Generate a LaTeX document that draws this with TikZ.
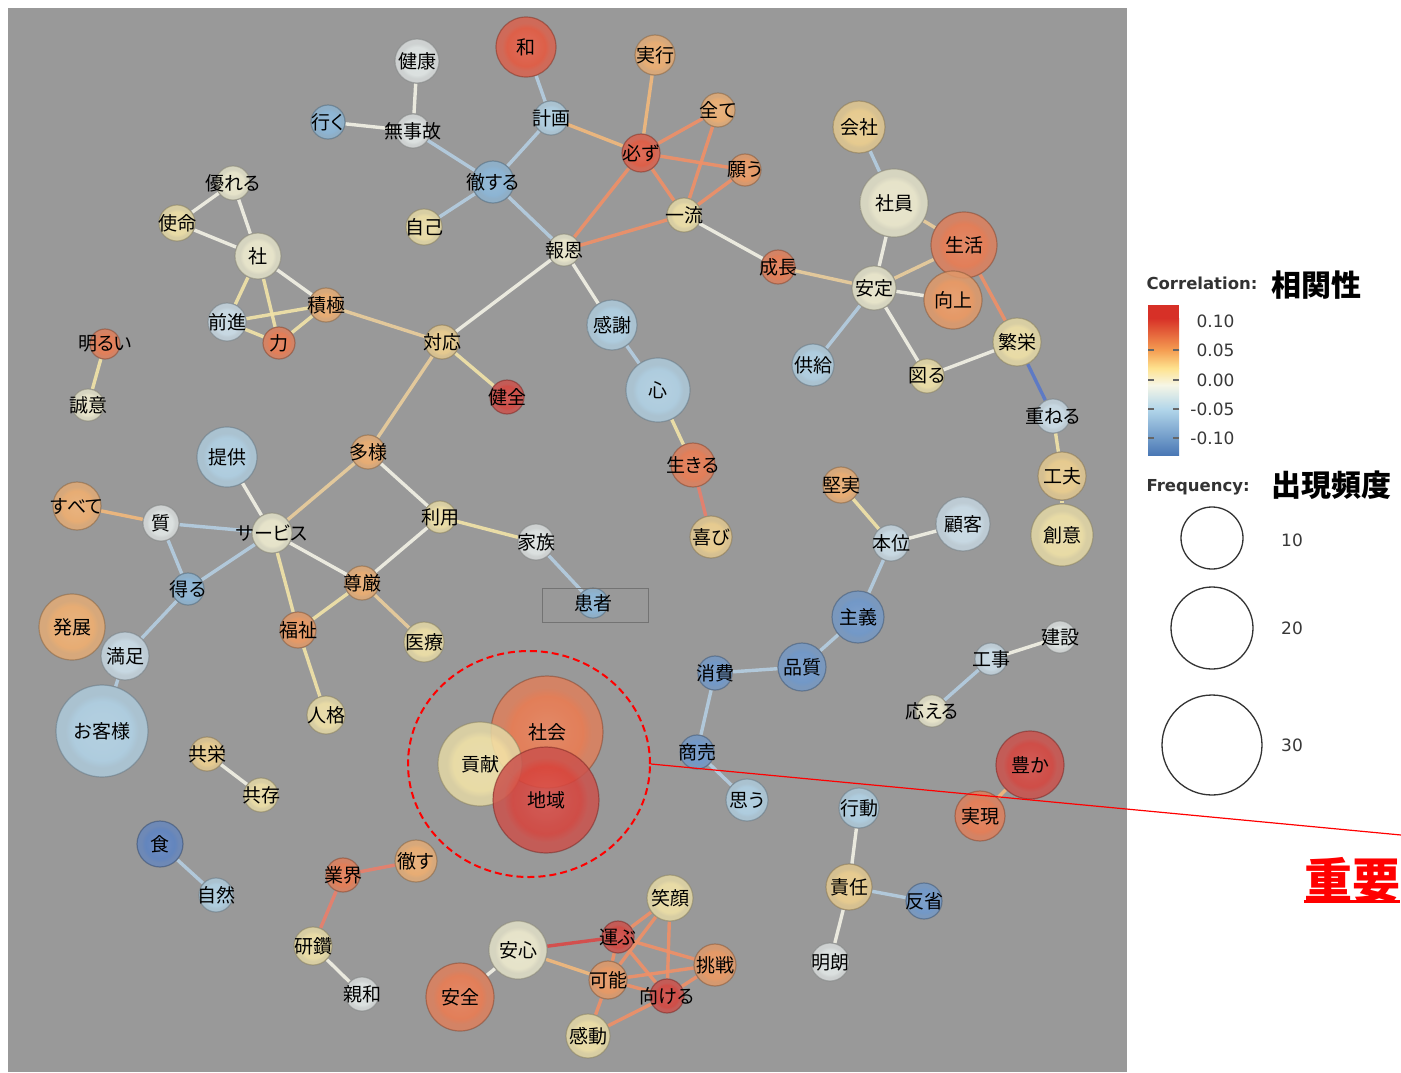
\documentclass[tikz,border=0pt]{standalone}
\usepackage{fontspec}
\setmainfont{Noto Sans CJK JP}[RawFeature={+palt}]
\newfontfamily\legendfont{DejaVu Sans}
\usetikzlibrary{shapes.geometric}

\definecolor{bgGray}{HTML}{999999}
% node colours, from strong positive to strong negative correlation
\definecolor{cP5}{HTML}{D8413A}
\definecolor{cP4}{HTML}{E9563C}
\definecolor{cP3}{HTML}{EE7A4E}
\definecolor{cP2}{HTML}{F2995E}
\definecolor{cP1}{HTML}{F4B06E}
\definecolor{cZ3}{HTML}{F3D38E}
\definecolor{cZ2}{HTML}{F5E6A8}
\definecolor{cZ1}{HTML}{F3F0D2}
\definecolor{cZ0}{HTML}{E6ECEB}
\definecolor{cN1}{HTML}{CFE3EF}
\definecolor{cN2}{HTML}{B2D5EA}
\definecolor{cN3}{HTML}{8BB9DD}
\definecolor{cN4}{HTML}{6C98CF}
\definecolor{cN5}{HTML}{5A82C4}
% link colours
\definecolor{eRed}{HTML}{D84A48}
\definecolor{eRedOr}{HTML}{E8806C}
\definecolor{eOrange}{HTML}{EE9068}
\definecolor{eLtOrange}{HTML}{F0B87C}
\definecolor{eTan}{HTML}{E9CC9C}
\definecolor{eYellow}{HTML}{F0E2A8}
\definecolor{eWhite}{HTML}{F1F0E4}
\definecolor{eBlue}{HTML}{B4CDE0}
\definecolor{eDeep}{HTML}{5A78C8}
% legend bar colours
\definecolor{barRed}{HTML}{D73027}
\definecolor{barOrange}{HTML}{F59D52}
\definecolor{barYellow}{HTML}{FEE28E}
\definecolor{barPale}{HTML}{F6F6E6}
\definecolor{barLtBlue}{HTML}{B2D6EA}
\definecolor{barBlue}{HTML}{4A78B5}

\colorlet{wordcolor}{white}
\pgfdeclareradialshading[wordcolor]{wordshade}{\pgfpoint{0bp}{0bp}}{%
  color(0bp)=(wordcolor!90!white); color(16bp)=(wordcolor); color(20bp)=(wordcolor!80!bgGray);
  color(25bp)=(wordcolor!80!bgGray); color(50bp)=(wordcolor!80!bgGray)}

\pgfdeclarelayer{bglayer}
\pgfdeclarelayer{linklayer}
\pgfsetlayers{bglayer,linklayer,main}

\begin{document}
\begin{tikzpicture}[x=1pt,y=-1pt,
    word/.style={circle,inner sep=0pt,/utils/exec={\colorlet{wordcolor}{#1}},shading=wordshade,
      draw=#1!55!black,draw opacity=0.5,line width=1.2pt,fill opacity=0.86,text opacity=1,
      font=\fontsize{19}{20}\selectfont,
      execute at begin node={\hbox to 0pt\bgroup\hss},execute at end node={\hss\egroup}},
    link/.style={draw=#1,line width=3.4pt,draw opacity=0.92},
    legendnum/.style={font=\legendfont\fontsize{17}{18}\selectfont,text=black!78},
    legendhead/.style={font=\legendfont\bfseries\fontsize{16.5}{18}\selectfont,text=black!80,anchor=west},
    legendjp/.style={font=\bfseries\fontsize{30}{32}\selectfont,anchor=west}]

  \useasboundingbox (0,0) rectangle (1401,1072);
  \begin{pgfonlayer}{bglayer}
    \fill[white] (0,0) rectangle (1401,1072);
    \fill[bgGray] (8,8) rectangle (1127,1072);
  \end{pgfonlayer}

  % top
  \node[word=cZ0,minimum size=44] (kenkou) at (417,61) {健康};
  \node[word=cP4,minimum size=60] (wa) at (526,47) {和};
  \node[word=cP1,minimum size=40] (jikkou) at (655,55) {実行};
  \node[word=cN3,minimum size=34] (iku) at (328,122) {行く};
  \node[word=cZ0,minimum size=34] (mujiko) at (413,131) {無事故};
  \node[word=cN2,minimum size=34] (keikaku) at (551,118) {計画};
  \node[word=cP1,minimum size=34] (subete1) at (718,110) {全て};
  \node[word=cP4,minimum size=38] (kanarazu) at (641,153) {必ず};
  \node[word=cP2,minimum size=32] (negau) at (745,170) {願う};
  \node[word=cN3,minimum size=42] (tessuru) at (493,182) {徹する};
  \node[word=cZ2,minimum size=36] (jiko) at (424,227) {自己};
  \node[word=cZ2,minimum size=34] (ichiryuu) at (684,215) {一流};
  \node[word=cZ1,minimum size=32] (houon) at (564,250) {報恩};
  \node[word=cP3,minimum size=34] (seichou) at (778,267) {成長};
  \node[word=cZ3,minimum size=52] (kaisha) at (859,127) {会社};
  \node[word=cZ1,minimum size=68] (shain) at (894,203) {社員};
  \node[word=cP3,minimum size=66] (seikatsu) at (964,245) {生活};
  \node[word=cZ1,minimum size=44] (antei) at (874,288) {安定};
  \node[word=cP2,minimum size=58] (koujou) at (953,300) {向上};
  \node[word=cZ2,minimum size=48] (hanei) at (1017,342) {繁栄};
  \node[word=cN2,minimum size=42] (kyoukyuu) at (813,365) {供給};
  \node[word=cZ2,minimum size=34] (hakaru) at (927,376) {図る};
  \node[word=cN1,minimum size=34] (kasaneru) at (1053,416) {重ねる};
  \node[word=cZ3,minimum size=48] (kufuu) at (1062,476) {工夫};
  \node[word=cZ2,minimum size=62] (soui) at (1062,535) {創意};

  % left
  \node[word=cZ1,minimum size=34] (sugureru) at (233,183) {優れる};
  \node[word=cZ2,minimum size=36] (shimei) at (177,223) {使命};
  \node[word=cZ1,minimum size=46] (sha) at (258,256) {社};
  \node[word=cP1,minimum size=34] (sekkyoku) at (326,305) {積極};
  \node[word=cN1,minimum size=38] (zenshin) at (227,322) {前進};
  \node[word=cP3,minimum size=32] (chikara) at (279,343) {力};
  \node[word=cP3,minimum size=30] (akarui) at (105,344) {明るい};
  \node[word=cZ1,minimum size=32] (seii) at (88,405) {誠意};
  \node[word=cZ3,minimum size=34] (taiou) at (442,342) {対応};
  \node[word=cP5,minimum size=34] (kenzen) at (507,397) {健全};
  \node[word=cN2,minimum size=50] (kansha) at (612,325) {感謝};
  \node[word=cN2,minimum size=64] (kokoro) at (658,390) {心};
  \node[word=cP3,minimum size=44] (ikiru) at (693,465) {生きる};
  \node[word=cZ3,minimum size=42] (yorokobi) at (711,537) {喜び};
  \node[word=cN2,minimum size=60] (teikyou) at (227,457) {提供};
  \node[word=cP1,minimum size=34] (tayou) at (368,452) {多様};
  \node[word=cP1,minimum size=48] (subete2) at (77,506) {すべて};
  \node[word=cZ0,minimum size=36] (shitsu) at (161,523) {質};
  \node[word=cZ1,minimum size=40] (service) at (272,533) {サービス};
  \node[word=cZ2,minimum size=32] (riyou) at (440,517) {利用};
  \node[word=cZ0,minimum size=36] (kazoku) at (536,542) {家族};
  \node[word=cN3,minimum size=32] (eru) at (188,589) {得る};
  \node[word=cP1,minimum size=34] (songen) at (362,583) {尊厳};
  \node[word=cN3,minimum size=30] (kanja) at (593,603) {患者};
  \node[word=cP1,minimum size=66] (hatten) at (72,627) {発展};
  \node[word=cP2,minimum size=36] (fukushi) at (298,630) {福祉};
  \node[word=cZ2,minimum size=40] (iryou) at (424,642) {医療};
  \node[word=cN1,minimum size=48] (manzoku) at (125,656) {満足};
  \node[word=cZ2,minimum size=38] (jinkaku) at (326,715) {人格};
  \node[word=cN2,minimum size=92] (okyaku) at (102,731) {お客様};

  % highlighted cluster
  \node[word=cP3,minimum size=112] (shakai) at (547,732) {社会};
  \node[word=cZ2,minimum size=84] (kouken) at (480,764) {貢献};
  \node[word=cP5,minimum size=106] (chiiki) at (546,800) {地域};

  % right
  \node[word=cP1,minimum size=36] (kenjitsu) at (841,485) {堅実};
  \node[word=cN1,minimum size=54] (kokyaku) at (963,524) {顧客};
  \node[word=cN1,minimum size=36] (honi) at (891,543) {本位};
  \node[word=cN4,minimum size=52] (shugi) at (858,617) {主義};
  \node[word=cN4,minimum size=48] (hinshitsu) at (802,667) {品質};
  \node[word=cN4,minimum size=34] (shouhi) at (715,673) {消費};
  \node[word=cZ0,minimum size=32] (kensetsu) at (1060,637) {建設};
  \node[word=cN1,minimum size=32] (kouji) at (991,659) {工事};
  \node[word=cZ1,minimum size=32] (kotaeru) at (932,711) {応える};
  \node[word=cN4,minimum size=34] (shoubai) at (697,752) {商売};
  \node[word=cN2,minimum size=42] (omou) at (747,800) {思う};
  \node[word=cP5,minimum size=68] (yutaka) at (1030,765) {豊か};
  \node[word=cP3,minimum size=50] (jitsugen) at (980,816) {実現};
  \node[word=cN2,minimum size=40] (koudou) at (859,808) {行動};
  \node[word=cZ3,minimum size=46] (sekinin) at (849,887) {責任};
  \node[word=cN4,minimum size=36] (hansei) at (924,901) {反省};
  \node[word=cZ0,minimum size=38] (meirou) at (830,962) {明朗};

  % bottom
  \node[word=cZ3,minimum size=34] (kyouei) at (207,754) {共栄};
  \node[word=cZ2,minimum size=34] (kyouzon) at (261,795) {共存};
  \node[word=cN5,minimum size=46] (shoku) at (160,844) {食};
  \node[word=cN2,minimum size=34] (shizen) at (216,895) {自然};
  \node[word=cP3,minimum size=34] (gyoukai) at (343,875) {業界};
  \node[word=cP1,minimum size=42] (tessu) at (416,861) {徹す};
  \node[word=cZ2,minimum size=38] (kensan) at (313,946) {研鑽};
  \node[word=cZ0,minimum size=34] (shinwa) at (362,994) {親和};
  \node[word=cZ2,minimum size=46] (egao) at (670,898) {笑顔};
  \node[word=cZ1,minimum size=58] (anshin) at (518,950) {安心};
  \node[word=cP5,minimum size=32] (hakobu) at (618,937) {運ぶ};
  \node[word=cP2,minimum size=42] (chousen) at (715,965) {挑戦};
  \node[word=cP2,minimum size=38] (kanou) at (608,980) {可能};
  \node[word=cP5,minimum size=34] (mukeru) at (667,996) {向ける};
  \node[word=cP3,minimum size=68] (anzen) at (460,997) {安全};
  \node[word=cZ2,minimum size=44] (kandou) at (588,1036) {感動};

  \draw[black!55,line width=0.9pt] (542,588) rectangle (648,622);

  \begin{pgfonlayer}{linklayer}
    \draw[link=eWhite] (kenkou) -- (mujiko);
    \draw[link=eWhite] (iku) -- (mujiko);
    \draw[link=eBlue] (mujiko) -- (tessuru);
    \draw[link=eBlue] (tessuru) -- (keikaku);
    \draw[link=eBlue] (tessuru) -- (jiko);
    \draw[link=eBlue] (tessuru) -- (houon);
    \draw[link=eBlue] (wa) -- (keikaku);
    \draw[link=eLtOrange] (keikaku) -- (kanarazu);
    \draw[link=eLtOrange] (jikkou) -- (kanarazu);
    \draw[link=eOrange] (subete1) -- (kanarazu);
    \draw[link=eOrange] (kanarazu) -- (negau);
    \draw[link=eOrange] (kanarazu) -- (ichiryuu);
    \draw[link=eOrange] (kanarazu) -- (houon);
    \draw[link=eOrange] (subete1) -- (ichiryuu);
    \draw[link=eOrange] (negau) -- (ichiryuu);
    \draw[link=eOrange] (ichiryuu) -- (houon);
    \draw[link=eWhite] (ichiryuu) -- (seichou);
    \draw[link=eWhite] (houon) -- (taiou);
    \draw[link=eWhite] (houon) -- (kansha);
    \draw[link=eBlue] (kansha) -- (kokoro);
    \draw[link=eYellow] (kokoro) -- (ikiru);
    \draw[link=eRedOr] (ikiru) -- (yorokobi);
    \draw[link=eTan] (seichou) -- (antei);
    \draw[link=eBlue] (kaisha) -- (shain);
    \draw[link=eWhite] (shain) -- (antei);
    \draw[link=eTan] (shain) -- (seikatsu);
    \draw[link=eTan] (antei) -- (seikatsu);
    \draw[link=eWhite] (antei) -- (koujou);
    \draw[link=eBlue] (antei) -- (kyoukyuu);
    \draw[link=eWhite] (antei) -- (hakaru);
    \draw[link=eWhite] (hakaru) -- (hanei);
    \draw[link=eOrange] (seikatsu) -- (hanei);
    \draw[link=eDeep] (hanei) -- (kasaneru);
    \draw[link=eYellow] (kasaneru) -- (kufuu);
    \draw[link=eYellow] (kufuu) -- (soui);

    \draw[link=eWhite] (sugureru) -- (shimei);
    \draw[link=eWhite] (sugureru) -- (sha);
    \draw[link=eWhite] (shimei) -- (sha);
    \draw[link=eYellow] (sha) -- (zenshin);
    \draw[link=eYellow] (sha) -- (chikara);
    \draw[link=eWhite] (sha) -- (sekkyoku);
    \draw[link=eYellow] (zenshin) -- (sekkyoku);
    \draw[link=eYellow] (zenshin) -- (chikara);
    \draw[link=eYellow] (chikara) -- (sekkyoku);
    \draw[link=eTan] (sekkyoku) -- (taiou);
    \draw[link=eYellow] (akarui) -- (seii);
    \draw[link=eYellow] (taiou) -- (kenzen);
    \draw[link=eTan] (taiou) -- (tayou);
    \draw[link=eTan] (tayou) -- (service);
    \draw[link=eWhite] (tayou) -- (riyou);
    \draw[link=eWhite] (teikyou) -- (service);
    \draw[link=eLtOrange] (subete2) -- (shitsu);
    \draw[link=eBlue] (shitsu) -- (service);
    \draw[link=eBlue] (shitsu) -- (eru);
    \draw[link=eBlue] (eru) -- (service);
    \draw[link=eBlue] (eru) -- (manzoku);
    \draw[link=eBlue] (manzoku) -- (okyaku);
    \draw[link=eWhite] (service) -- (songen);
    \draw[link=eYellow] (service) -- (fukushi);
    \draw[link=eYellow] (songen) -- (fukushi);
    \draw[link=eWhite] (songen) -- (riyou);
    \draw[link=eTan] (songen) -- (iryou);
    \draw[link=eYellow] (fukushi) -- (jinkaku);
    \draw[link=eYellow] (riyou) -- (kazoku);
    \draw[link=eBlue] (kazoku) -- (kanja);

    \draw[link=eYellow] (kenjitsu) -- (honi);
    \draw[link=eWhite] (honi) -- (kokyaku);
    \draw[link=eBlue] (honi) -- (shugi);
    \draw[link=eBlue] (shugi) -- (hinshitsu);
    \draw[link=eBlue] (hinshitsu) -- (shouhi);
    \draw[link=eBlue] (shouhi) -- (shoubai);
    \draw[link=eBlue] (shoubai) -- (omou);
    \draw[link=eWhite] (kensetsu) -- (kouji);
    \draw[link=eBlue] (kouji) -- (kotaeru);
    \draw[link=eLtOrange] (yutaka) -- (jitsugen);
    \draw[link=eWhite] (koudou) -- (sekinin);
    \draw[link=eBlue] (sekinin) -- (hansei);
    \draw[link=eWhite] (sekinin) -- (meirou);

    \draw[link=eWhite] (kyouei) -- (kyouzon);
    \draw[link=eBlue] (shoku) -- (shizen);
    \draw[link=eRedOr] (gyoukai) -- (tessu);
    \draw[link=eRedOr] (gyoukai) -- (kensan);
    \draw[link=eWhite] (kensan) -- (shinwa);

    \draw[link=eWhite] (anzen) -- (anshin);
    \draw[link=eRed] (anshin) -- (hakobu);
    \draw[link=eLtOrange] (anshin) -- (kanou);
    \draw[link=eOrange] (hakobu) -- (egao);
    \draw[link=eOrange] (hakobu) -- (chousen);
    \draw[link=eOrange] (hakobu) -- (kanou);
    \draw[link=eOrange] (hakobu) -- (mukeru);
    \draw[link=eOrange] (egao) -- (kanou);
    \draw[link=eOrange] (egao) -- (mukeru);
    \draw[link=eOrange] (kanou) -- (chousen);
    \draw[link=eOrange] (kanou) -- (mukeru);
    \draw[link=eOrange] (kanou) -- (kandou);
    \draw[link=eOrange] (mukeru) -- (chousen);
    \draw[link=eOrange] (mukeru) -- (kandou);
  \end{pgfonlayer}

  % emphasis
  \node[ellipse,draw=red,dashed,dash pattern=on 7pt off 4pt,line width=2pt,
    minimum width=242,minimum height=226] (focus) at (529,764) {};
  \coordinate (lineend) at (1401,835);
  \draw[red,line width=1.2pt] (focus.east) -- (lineend);
  \node[text=red,inner sep=0pt,font=\bfseries\fontsize{48}{50}\selectfont] (juuyou) at (1352,880) {重要};
  \draw[red,line width=3pt] ([yshift=2]juuyou.south west) -- ([yshift=2]juuyou.south east);

  % legend
  \node[legendhead] (corrhead) at (1143,283) {Correlation:};
  \node[legendjp] (corrjp) at (1268,285) {相関性};
  \fill[barRed] (1148,305) rectangle (1179,318);
  \shade[top color=barRed,bottom color=barOrange] (1148,318) rectangle (1179,350);
  \shade[top color=barOrange,bottom color=barYellow] (1148,350) rectangle (1179,368);
  \shade[top color=barYellow,bottom color=barPale] (1148,368) rectangle (1179,385);
  \shade[top color=barPale,bottom color=barLtBlue] (1148,385) rectangle (1179,409);
  \shade[top color=barLtBlue,bottom color=barBlue] (1148,409) rectangle (1179,455);
  \foreach \ty in {350,380,409,438} {
    \draw[black!60,line width=1.2pt] (1148,\ty) -- (1154,\ty);
    \draw[black!60,line width=1.2pt] (1173,\ty) -- (1179,\ty);
  }
  \node[legendnum,anchor=east] (c1) at (1238,321) {0.10};
  \node[legendnum,anchor=east] (c2) at (1238,350) {0.05};
  \node[legendnum,anchor=east] (c3) at (1238,380) {0.00};
  \node[legendnum,anchor=east] (c4) at (1238,409) {-0.05};
  \node[legendnum,anchor=east] (c5) at (1238,438) {-0.10};

  \node[legendhead] (freqhead) at (1143,487) {Frequency:};
  \node[legendjp] (freqjp) at (1268,485) {出現頻度};
  \node[circle,draw=black!80,line width=1.3pt,minimum size=62] (f10) at (1212,538) {};
  \node[circle,draw=black!80,line width=1.3pt,minimum size=82] (f20) at (1212,628) {};
  \node[circle,draw=black!80,line width=1.3pt,minimum size=100] (f30) at (1212,745) {};
  \node[legendnum] (n10) at (1292,540) {10};
  \node[legendnum] (n20) at (1292,628) {20};
  \node[legendnum] (n30) at (1292,745) {30};
\end{tikzpicture}
\end{document}
